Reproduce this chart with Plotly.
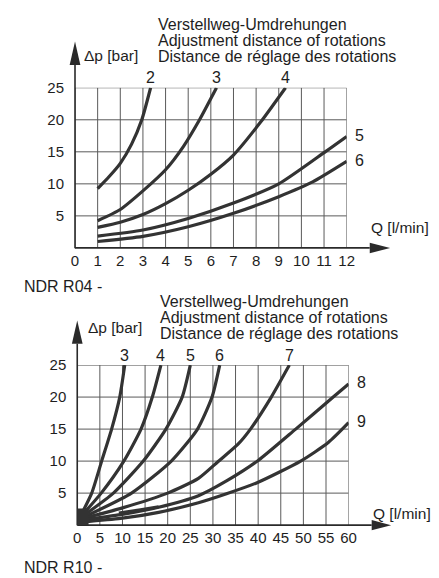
import plotly.graph_objects as go

W, H = 439, 578

# ---------------- data: NDR R04 (Q in l/min, dp in bar) ----------------
r04_labels = ["2", "3", "4", "5", "6"]
r04_q2 = [1, 1.5, 2, 2.5, 2.95, 3.34]
r04_p2 = [9.25, 11.1, 13.2, 16.2, 20, 25]
r04_q3 = [1, 2, 3, 4, 4.8, 5.5, 6.25]
r04_p3 = [4.25, 6.0, 8.9, 12.2, 15.9, 20, 25]
r04_q4 = [1, 2, 3, 4, 5, 6, 7, 8.19, 9.3]
r04_p4 = [3.2, 4.0, 5.2, 6.9, 9.0, 11.5, 14.5, 19.6, 25]
r04_q5 = [1, 3, 5, 7, 9, 11.05, 12]
r04_p5 = [1.85, 2.8, 4.6, 7.0, 10.0, 15, 17.4]
r04_q6 = [1, 3, 5, 7, 9, 10.5, 12]
r04_p6 = [1.0, 1.8, 3.3, 5.4, 8.0, 10.3, 13.5]
r04_xticks = list(range(0, 13))
r04_yticks = [5, 10, 15, 20, 25]

# ---------------- data: NDR R10 ----------------
r10_labels = ["3", "4", "5", "6", "7", "8", "9"]
r10_q3 = [1, 3.2, 5.4, 7.6, 9.4, 10.5]
r10_p3 = [1.8, 5, 10, 15, 20, 25]
r10_q4 = [1, 5.3, 10.3, 14.1, 16.6, 18.5]
r10_p4 = [1.5, 5, 10, 15, 20, 25]
r10_q5 = [1, 8, 14.6, 19.6, 23.2, 25]
r10_p5 = [1.3, 5, 10, 15, 20, 25]
r10_q6 = [1, 12, 20.8, 26.6, 29.8, 31.5]
r10_p6 = [1.1, 5, 10, 15, 20, 25]
r10_q7 = [1, 10, 20, 26.8, 31.1, 35.5, 38.3, 42.9, 46.9]
r10_p7 = [1.0, 2.7, 5.0, 7.3, 9.9, 12.6, 15, 20, 25]
r10_q8 = [1, 9.6, 18, 26.8, 33, 40, 48.3, 56.6, 60]
r10_p8 = [0.8, 1.65, 2.8, 4.6, 6.9, 10.1, 15, 20, 22.05]
r10_q9 = [1, 9.6, 18, 26.8, 33, 40, 49.4, 55.5, 60]
r10_p9 = [0.5, 1.05, 2.0, 3.5, 4.9, 6.7, 10, 12.9, 16]
r10_qx = [9.2, 14, 18]
r10_px = [1.9, 2.4, 2.85]
r10_xticks = list(range(0, 61, 5))
r10_yticks = [5, 10, 15, 20, 25]

CURVE = "#333333"
GRID = "#5a5a5a"
AX = "#2a2a2a"
TXT = "#1e1e1e"
FONT = "Liberation Sans, Arial, Helvetica, sans-serif"


def px(x):
    return x / W


def py(y):
    return 1 - y / H


fig = go.Figure()


def add(xs, ys, xa, ya):
    fig.add_trace(go.Scatter(
        x=xs, y=ys, mode="lines", xaxis=xa, yaxis=ya,
        line=dict(color=CURVE, width=3.2, shape="spline", smoothing=0.6),
        hoverinfo="skip", showlegend=False))


top = [(r04_q2, r04_p2), (r04_q3, r04_p3), (r04_q4, r04_p4),
       (r04_q5, r04_p5), (r04_q6, r04_p6)]
bot = [(r10_q3, r10_p3), (r10_q4, r10_p4), (r10_q5, r10_p5),
       (r10_q6, r10_p6), (r10_q7, r10_p7), (r10_q8, r10_p8),
       (r10_q9, r10_p9)]

for q, p in top:
    add(q, p, "x", "y")
for q, p in bot:
    add(q, p, "x2", "y2")
add(r10_qx, r10_px, "x2", "y2")

annotations = []


def curve_label(text, q, p, xref, yref):
    if p[-1] >= 24.9:
        annotations.append(dict(x=q[-1], y=p[-1], xref=xref, yref=yref, text=text,
                                showarrow=False, xanchor="center", yanchor="middle",
                                yshift=10, font=dict(size=16, color=TXT, family=FONT)))
    else:
        annotations.append(dict(x=q[-1], y=p[-1], xref=xref, yref=yref, text=text,
                                showarrow=False, xanchor="center", yanchor="middle",
                                xshift=13, yshift=1, font=dict(size=16, color=TXT, family=FONT)))


for lab, (q, p) in zip(r04_labels, top):
    curve_label(lab, q, p, "x", "y")
for lab, (q, p) in zip(r10_labels, bot):
    curve_label(lab, q, p, "x2", "y2")


def text(t, x, y, size=16, anchor="left"):
    annotations.append(dict(x=px(x), y=py(y), xref="paper", yref="paper", text=t,
                            showarrow=False, xanchor=anchor, yanchor="middle",
                            font=dict(size=size, color=TXT, family=FONT)))


titles = ["Verstellweg-Umdrehungen", "Adjustment distance of rotations",
          "Distance de réglage des rotations"]
for i, t in enumerate(titles):
    text(t, 156, 16 + 16 * i)
    text(t, 158, 297.5 + 16 * i)
text("Δp [bar]", 80, 47.5, 15.5)
text("Δp [bar]", 84, 324, 15.5)
text("Q [l/min]", 375, 222, 15.5)
text("Q [l/min]", 377, 512, 15.5)
text("NDR R04 -", 19, 282, 16)
text("NDR R10 -", 18, 567.5, 16)

shapes = []

# grid lines from the tick arrays
for xs, ys, xr, yr in [(r04_xticks, r04_yticks, "x", "y"),
                       (r10_xticks, r10_yticks, "x2", "y2")]:
    for v in xs:
        shapes.append(dict(type="line", xref=xr, yref=yr, x0=v, x1=v, y0=0, y1=ys[-1],
                           layer="below", line=dict(color=GRID, width=1)))
    for v in ys:
        shapes.append(dict(type="line", xref=xr, yref=yr, x0=0, x1=xs[-1], y0=v, y1=v,
                           layer="below", line=dict(color=GRID, width=1)))


def vline_arrow(x, y0, tip, base):
    shapes.append(dict(type="line", xref="paper", yref="paper",
                       x0=px(x), x1=px(x), y0=py(y0), y1=py(base),
                       line=dict(color=AX, width=1.6)))
    shapes.append(dict(type="path", xref="paper", yref="paper",
                       path=f"M {px(x-5.5)} {py(base)} L {px(x)} {py(tip)} L {px(x+5.5)} {py(base)} Z",
                       fillcolor=AX, line=dict(color=AX, width=0)))


def hline_arrow(y, x0, tip, base):
    shapes.append(dict(type="line", xref="paper", yref="paper",
                       x0=px(x0), x1=px(base), y0=py(y), y1=py(y),
                       line=dict(color=AX, width=1.6)))
    shapes.append(dict(type="path", xref="paper", yref="paper",
                       path=f"M {px(base)} {py(y-5.3)} L {px(tip)} {py(y)} L {px(base)} {py(y+5.3)} Z",
                       fillcolor=AX, line=dict(color=AX, width=0)))


vline_arrow(73, 243, 33, 57)
hline_arrow(242.7, 73, 397, 376)
vline_arrow(75.3, 524.5, 316.5, 340)
hline_arrow(524.3, 75.3, 398, 378)

# dark block where the R10 curves converge
shapes.append(dict(type="rect", xref="x2", yref="y2", x0=0, x1=2.5, y0=0, y1=2.6,
                   fillcolor=CURVE, line=dict(width=0)))

axis_common = dict(showgrid=False, zeroline=False, showline=False,
                   ticks="", ticklen=0, tickfont=dict(size=15, color=TXT, family=FONT),
                   fixedrange=True)

fig.update_layout(
    width=W, height=H, autosize=False,
    margin=dict(l=0, r=0, t=0, b=0),
    paper_bgcolor="white", plot_bgcolor="white",
    xaxis=dict(domain=[px(73), px(352.3)], range=[0, 12], anchor="y",
               tickmode="array", tickvals=r04_xticks,
               ticktext=[str(v) for v in r04_xticks], ticklabelstandoff=2, **axis_common),
    yaxis=dict(domain=[py(242.7), py(80)], range=[0, 25], anchor="x",
               tickmode="array", tickvals=r04_yticks,
               ticktext=[str(v) for v in r04_yticks], ticklabelstandoff=10, **axis_common),
    xaxis2=dict(domain=[px(75.3), px(354.3)], range=[0, 60], anchor="y2",
                tickmode="array", tickvals=r10_xticks,
                ticktext=[str(v) for v in r10_xticks], ticklabelstandoff=2, **axis_common),
    yaxis2=dict(domain=[py(524.3), py(361.7)], range=[0, 25], anchor="x2",
                tickmode="array", tickvals=r10_yticks,
                ticktext=[str(v) for v in r10_yticks], ticklabelstandoff=10, **axis_common),
    annotations=annotations,
    shapes=shapes,
)

fig.write_html("out.html", config={"displayModeBar": False})
